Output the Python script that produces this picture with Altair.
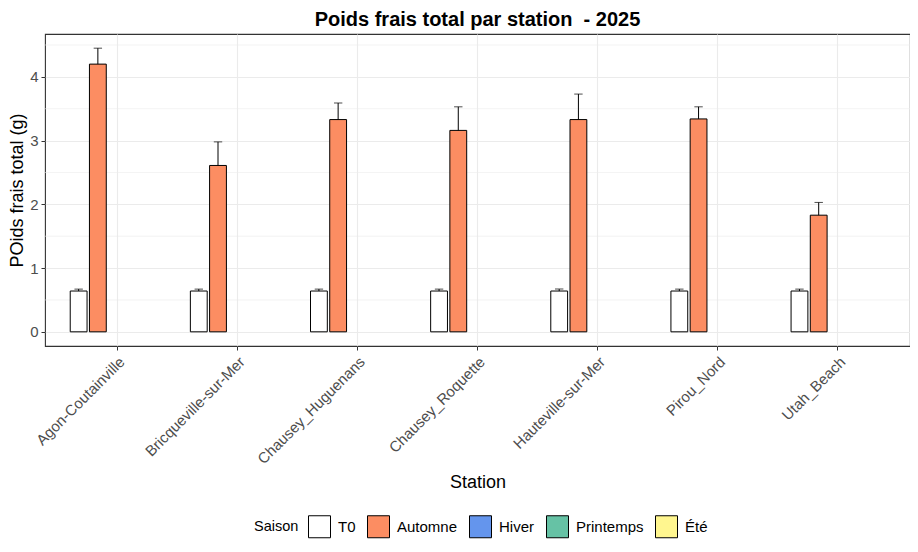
import altair as alt
import pandas as pd

stations = ["Agon-Coutainville", "Bricqueville-sur-Mer", "Chausey_Huguenans",
            "Chausey_Roquette", "Hauteville-sur-Mer", "Pirou_Nord", "Utah_Beach"]
seasons = ["T0", "Automne", "Hiver", "Printemps", "Été"]
season_colors = ["#FFFFFF", "#FC8D62", "#6495ED", "#66C2A5", "#FFF68F"]

t0_mean = [0.64, 0.64, 0.64, 0.64, 0.64, 0.64, 0.64]
t0_upper = [0.67, 0.67, 0.67, 0.67, 0.67, 0.67, 0.67]
aut_mean = [4.20, 2.61, 3.33, 3.16, 3.33, 3.34, 1.83]
aut_upper = [4.45, 2.98, 3.59, 3.53, 3.73, 3.53, 2.03]

y_ticks = [0, 1, 2, 3, 4]
y_minor = [0.5, 1.5, 2.5, 3.5, 4.5]

rows = []
for i, s in enumerate(stations):
    rows.append({"Station": s, "Saison": "T0", "mean": t0_mean[i], "upper": t0_upper[i]})
    rows.append({"Station": s, "Saison": "Automne", "mean": aut_mean[i], "upper": aut_upper[i]})
df = pd.DataFrame(rows)
minor_df = pd.DataFrame({"v": y_minor})

FONT = "Liberation Sans"
ydom = [-0.2225, 4.6725]

x_enc = alt.X("Station:N", sort=stations,
              scale=alt.Scale(domain=stations, paddingInner=0, paddingOuter=0.1),
              axis=alt.Axis(title="Station", labelAngle=-45, labelAlign="right",
                            labelBaseline="top", labelFontSize=15, labelColor="#4D4D4D",
                            labelFont=FONT, titleFont=FONT, titleFontSize=18,
                            titleFontWeight="normal", titleColor="#000000",
                            tickColor="#333333", tickSize=4, labelPadding=4,
                            domain=False, grid=True, gridColor="#EBEBEB",
                            gridWidth=1.1, titleY=141, titleBaseline="alphabetic"))
xo_enc = alt.XOffset("Saison:N", sort=seasons,
                     scale=alt.Scale(domain=seasons, paddingInner=0.125, paddingOuter=0.6875))
y_scale = alt.Scale(domain=ydom, nice=False, zero=False)

minor = alt.Chart(minor_df).mark_rule(color="#EBEBEB", strokeWidth=0.6).encode(
    y=alt.Y("v:Q", scale=y_scale)
)

bars = alt.Chart(df).mark_bar(stroke="#000000", strokeWidth=1).encode(
    x=x_enc,
    xOffset=xo_enc,
    y=alt.Y("mean:Q", scale=y_scale,
            axis=alt.Axis(title="POids frais total (g)", values=y_ticks, format="d",
                          labelFontSize=15, labelColor="#4D4D4D", labelFont=FONT,
                          titleFont=FONT, titleFontSize=18, titleFontWeight="normal",
                          titleColor="#000000", tickColor="#333333", tickSize=4,
                          labelPadding=3, domain=False, grid=True, gridColor="#EBEBEB",
                          gridWidth=1.1, titleX=-28, titleBaseline="middle")),
    fill=alt.Fill("Saison:N", scale=alt.Scale(domain=seasons, range=season_colors),
                  legend=alt.Legend(title="Saison", orient="none", direction="horizontal",
                                    legendX=209, legendY=481, titleOrient="left",
                                    symbolType="square", symbolSize=484,
                                    symbolStrokeColor="#000000", symbolStrokeWidth=1,
                                    symbolOpacity=1, labelFontSize=15, titleFontSize=14.5,
                                    titleFontWeight="normal", labelFont=FONT, titleFont=FONT,
                                    labelColor="#000000", titleColor="#000000",
                                    columnPadding=9, labelOffset=7, titlePadding=9)),
)

err = alt.Chart(df).mark_rule(color="#000000", strokeWidth=1).encode(
    x=alt.X("Station:N", sort=stations),
    xOffset=alt.XOffset("Saison:N", sort=seasons),
    y=alt.Y("mean:Q", scale=y_scale),
    y2="upper:Q",
)
caps = alt.Chart(df).mark_tick(color="#000000", thickness=1, size=8.4).encode(
    x=alt.X("Station:N", sort=stations),
    xOffset=alt.XOffset("Saison:N", sort=seasons),
    y=alt.Y("upper:Q", scale=y_scale),
)

chart = alt.layer(minor, bars, err, caps).properties(
    width=865, height=312,
    title=alt.TitleParams("Poids frais total par station\u00a0 - 2025", font=FONT, fontSize=20,
                          fontWeight="bold", color="#000000", anchor="middle", offset=4),
    autosize=alt.AutoSizeParams(type="none"),
    padding={"left": 37, "top": 26, "right": 0, "bottom": 198},
    background="#FFFFFF",
).configure_view(stroke="#333333", strokeWidth=1.1)

chart.save("out.html", embed_options={"renderer": "svg", "actions": False})
